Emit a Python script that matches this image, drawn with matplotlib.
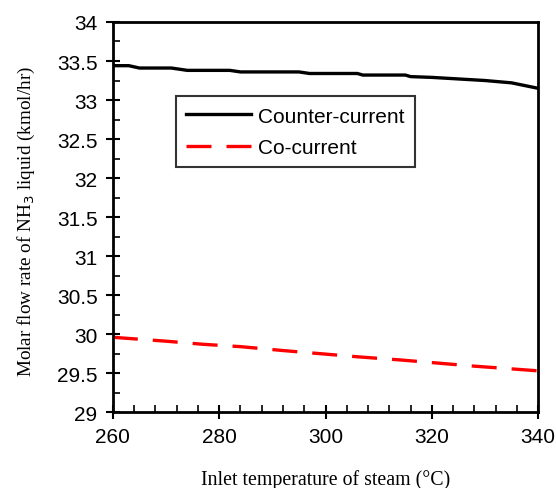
import matplotlib
matplotlib.use("Agg")
import matplotlib.pyplot as plt
from matplotlib.ticker import MultipleLocator

# data
temp_counter = [260, 263, 265, 271, 274, 282, 284, 295, 297, 306, 307, 315, 316, 320, 325, 330, 335, 340]
nh3_counter = [33.44, 33.44, 33.41, 33.41, 33.38, 33.38, 33.36, 33.36, 33.34, 33.34,
               33.32, 33.32, 33.30, 33.29, 33.27, 33.25, 33.22, 33.15]
temp_co = [260, 264, 270, 277, 284, 292, 299, 306, 314, 321, 328, 338, 340]
nh3_co = [29.96, 29.94, 29.91, 29.87, 29.84, 29.79, 29.75, 29.71, 29.67, 29.63, 29.59, 29.54, 29.53]
xticks = [260, 280, 300, 320, 340]
yticks = [29, 29.5, 30, 30.5, 31, 31.5, 32, 32.5, 33, 33.5, 34]

plt.rcParams['font.family'] = ['Liberation Sans', 'DejaVu Sans']

fig = plt.figure(figsize=(5.56, 4.89), dpi=100)
ax = fig.add_axes([0.203, 0.155, 0.765, 0.798])

ax.plot(temp_counter, nh3_counter, color='black', lw=2.4, label='Counter-current')
ax.plot(temp_co, nh3_co, color='red', lw=2.4, dashes=(7.5, 4.5), label='Co-current')

ax.set_xlim(260, 340)
ax.set_ylim(29, 34)
ax.set_xticks(xticks)
ax.set_yticks(yticks)
ax.set_yticklabels([('%g' % v) for v in yticks])
ax.xaxis.set_minor_locator(MultipleLocator(4))
ax.yaxis.set_minor_locator(MultipleLocator(0.25))
ax.tick_params(which='major', direction='inout', length=10, width=1.5, labelsize=15, pad=6)
ax.tick_params(which='minor', direction='in', length=5, width=1.2)
for s in ax.spines.values():
    s.set_linewidth(2)

ax.set_xlabel('Inlet temperature of steam (\u00b0C)', family='Liberation Serif', fontsize=14.3, labelpad=16)
ax.set_ylabel('Molar flow rate of NH$_3$ liquid (kmol/hr)', family='Liberation Serif', fontsize=13.8, labelpad=14)
ax.yaxis.label.set_y(0.492)

leg = ax.legend(loc='upper left', bbox_to_anchor=(0.148, 0.81), borderaxespad=0, fontsize=15,
                frameon=True, fancybox=False, edgecolor='black', handlelength=3.1,
                handletextpad=0.35, borderpad=0.5, labelspacing=0.6)
leg.get_frame().set_linewidth(1.5)

fig.savefig('out.png', dpi=100)
